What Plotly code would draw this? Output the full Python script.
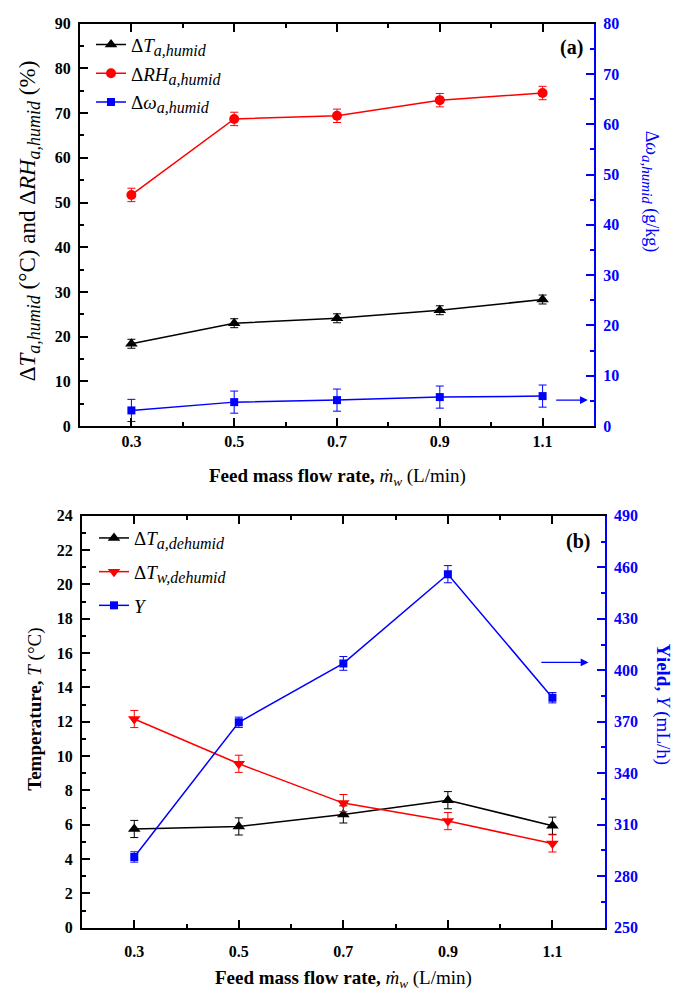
import plotly.graph_objects as go

W, H = 686, 992

# ---------------- data ----------------
flow = [0.3, 0.5, 0.7, 0.9, 1.1]

# panel (a)
dT_humid = [18.4, 23.0, 24.1, 25.9, 28.3]
dT_humid_err = [1.0, 1.0, 1.0, 1.0, 1.0]
dRH_humid = [51.7, 68.7, 69.4, 72.9, 74.5]
dRH_humid_err = [1.5, 1.5, 1.5, 1.5, 1.5]
dW_humid = [3.1, 4.75, 5.15, 5.75, 5.95]
dW_humid_err = [2.2, 2.2, 2.2, 2.2, 2.2]

# panel (b)
dT_a_dehumid = [5.75, 5.9, 6.6, 7.43, 5.94]
dT_a_dehumid_err = [0.5, 0.5, 0.5, 0.5, 0.5]
dT_w_dehumid = [12.16, 9.55, 7.26, 6.21, 4.91]
dT_w_dehumid_err = [0.5, 0.5, 0.5, 0.5, 0.5]
yield_Y = [291.2, 369.7, 404.0, 456.0, 384.0]
yield_err = [3.0, 3.0, 4.0, 5.0, 3.0]

xticks = [0.3, 0.5, 0.7, 0.9, 1.1]
xticklabels = ["0.3", "0.5", "0.7", "0.9", "1.1"]

FONT = "Liberation Serif"
BLUE = "#0000ff"
RED = "#ff0000"
BLACK = "#000000"


def px(x):
    return x / W


def py(y):
    return 1 - y / H


def sub(t, size=16):
    return f'<sub><span style="font-size:{size}px"><i>{t}</i></span></sub>'


fig = go.Figure()


def add(x, y, err, color, symbol, size, name, xa, ya, legend, group):
    fig.add_trace(go.Scatter(
        x=x, y=y, mode="lines+markers", name=name,
        line=dict(color=color, width=1.5),
        marker=dict(color=color, symbol=symbol, size=size),
        error_y=dict(type="data", array=err, color=color, thickness=1, width=4, visible=True),
        xaxis=xa, yaxis=ya, legend=legend, legendgroup=group,
    ))


add(flow, dT_humid, dT_humid_err, BLACK, "triangle-up", 11,
    "Δ<i>T</i>" + sub("a,humid"), "x", "y", "legend", "g1")
add(flow, dRH_humid, dRH_humid_err, RED, "circle", 10,
    "Δ<i>RH</i>" + sub("a,humid"), "x", "y", "legend", "g2")
add(flow, dW_humid, dW_humid_err, BLUE, "square", 8,
    "Δ<i>ω</i>" + sub("a,humid"), "x", "y2", "legend", "g3")

add(flow, dT_a_dehumid, dT_a_dehumid_err, BLACK, "triangle-up", 11,
    "Δ<i>T</i>" + sub("a,dehumid"), "x2", "y3", "legend2", "h1")
add(flow, dT_w_dehumid, dT_w_dehumid_err, RED, "triangle-down", 11,
    "Δ<i>T</i>" + sub("w,dehumid"), "x2", "y3", "legend2", "h2")
add(flow, yield_Y, yield_err, BLUE, "square", 8,
    "<i>Y</i>", "x2", "y4", "legend2", "h3")

tickfont_k = dict(family=FONT, size=16, color=BLACK, weight="bold")
tickfont_b = dict(family=FONT, size=16, color=BLUE, weight="bold")

top_dom = [py(425.3), py(16)]
bot_dom = [py(935.7), py(516.7)]


def xax(standoff, **kw):
    return dict(range=[0.2, 1.2], tickvals=xticks, ticktext=xticklabels,
                ticks="inside", ticklen=8, tickwidth=1.5, tickcolor=BLACK,
                showline=True, linecolor=BLACK, linewidth=2, mirror="ticks",
                showgrid=False, zeroline=False, tickfont=tickfont_k,
                ticklabelstandoff=standoff,
                minor=dict(tickvals=[0.4, 0.6, 0.8, 1.0], ticks="inside", ticklen=4,
                           tickwidth=1.5, tickcolor=BLACK, showgrid=False), **kw)


def yax(rng, dt, t0, mdt, color, tf, **kw):
    return dict(range=rng, dtick=dt, tick0=t0,
                ticks="inside", ticklen=8, tickwidth=1.5, tickcolor=color,
                showline=True, linecolor=color, linewidth=2, showgrid=False,
                zeroline=False, tickfont=tf, ticklabelstandoff=4,
                minor=dict(dtick=mdt, tick0=t0, ticks="inside", ticklen=4, tickwidth=1.5,
                           tickcolor=color, showgrid=False), **kw)


fig.update_layout(
    width=W, height=H,
    margin=dict(l=0, r=0, t=0, b=0),
    paper_bgcolor="white", plot_bgcolor="white",
    font=dict(family=FONT, size=16, color=BLACK),
    xaxis=xax(0, domain=[px(80), px(594)], anchor="y"),
    xaxis2=xax(8, domain=[px(82), px(604.7)], anchor="y3"),
    yaxis=yax([0, 90], 10, 0, 5, BLACK, tickfont_k, domain=top_dom, anchor="x"),
    yaxis2=yax([0, 80], 10, 0, 5, BLUE, tickfont_b, overlaying="y", anchor="x", side="right"),
    yaxis3=yax([0, 24], 2, 0, 1, BLACK, tickfont_k, domain=bot_dom, anchor="x2"),
    yaxis4=yax([250, 490], 30, 250, 15, BLUE, tickfont_b, overlaying="y3", anchor="x2", side="right"),
    legend=dict(x=px(91), y=py(18), xanchor="left", yanchor="top",
                bgcolor="rgba(0,0,0,0)", font=dict(family=FONT, size=19, color=BLACK),
                tracegroupgap=1, itemwidth=30),
    legend2=dict(x=px(94), y=py(520), xanchor="left", yanchor="top",
                 bgcolor="rgba(0,0,0,0)", font=dict(family=FONT, size=19, color=BLACK),
                 tracegroupgap=6, itemwidth=30),
    showlegend=True,
)


def a(text, x, y, size, color=BLACK, angle=0):
    return dict(text=text, x=px(x), y=py(y), xref="paper", yref="paper",
                xanchor="center", yanchor="middle", textangle=angle,
                showarrow=False, font=dict(family=FONT, size=size, color=color))


ann = []
ann.append(a("<b>(a)</b>", 571, 40, 20))
ann.append(a("<b>(b)</b>", 578, 543, 20))
ann.append(a("Δ<i>T</i>" + sub("a,humid", 18) + " (°C) and Δ<i>RH</i>" + sub("a,humid", 18) + " (%)",
             29, 217, 23, angle=-90))
ann.append(a("Δ<i>ω</i>" + sub("a,humid", 15) + " (g/kg)", 650, 187, 18, BLUE, angle=90))
ann.append(a("<b>Feed mass flow rate,</b> <i>ṁ</i><sub><i>w</i></sub> (L/min)", 337, 477, 19))
ann.append(a("<b>Temperature,</b> <i>T</i> (°C)", 35, 714, 19, angle=-90))
ann.append(a("<b>Yield,</b> <i>Y</i> (mL/h)", 663, 708, 19, BLUE, angle=90))
ann.append(a("<b>Feed mass flow rate,</b> <i>ṁ</i><sub><i>w</i></sub> (L/min)", 343, 988, 19))
# arrows
ann.append(dict(x=1.188, y=5.15, xref="x", yref="y2", ax=1.1235, ay=5.15,
                axref="x", ayref="y2", text="", showarrow=True, arrowhead=2,
                arrowsize=1.2, arrowwidth=1.3, arrowcolor=BLUE))
ann.append(dict(x=1.169, y=404.6, xref="x2", yref="y4", ax=1.076, ay=404.6,
                axref="x2", ayref="y4", text="", showarrow=True, arrowhead=2,
                arrowsize=1.2, arrowwidth=1.3, arrowcolor=BLUE))
fig.update_layout(annotations=ann)

fig.write_html("out.html")
